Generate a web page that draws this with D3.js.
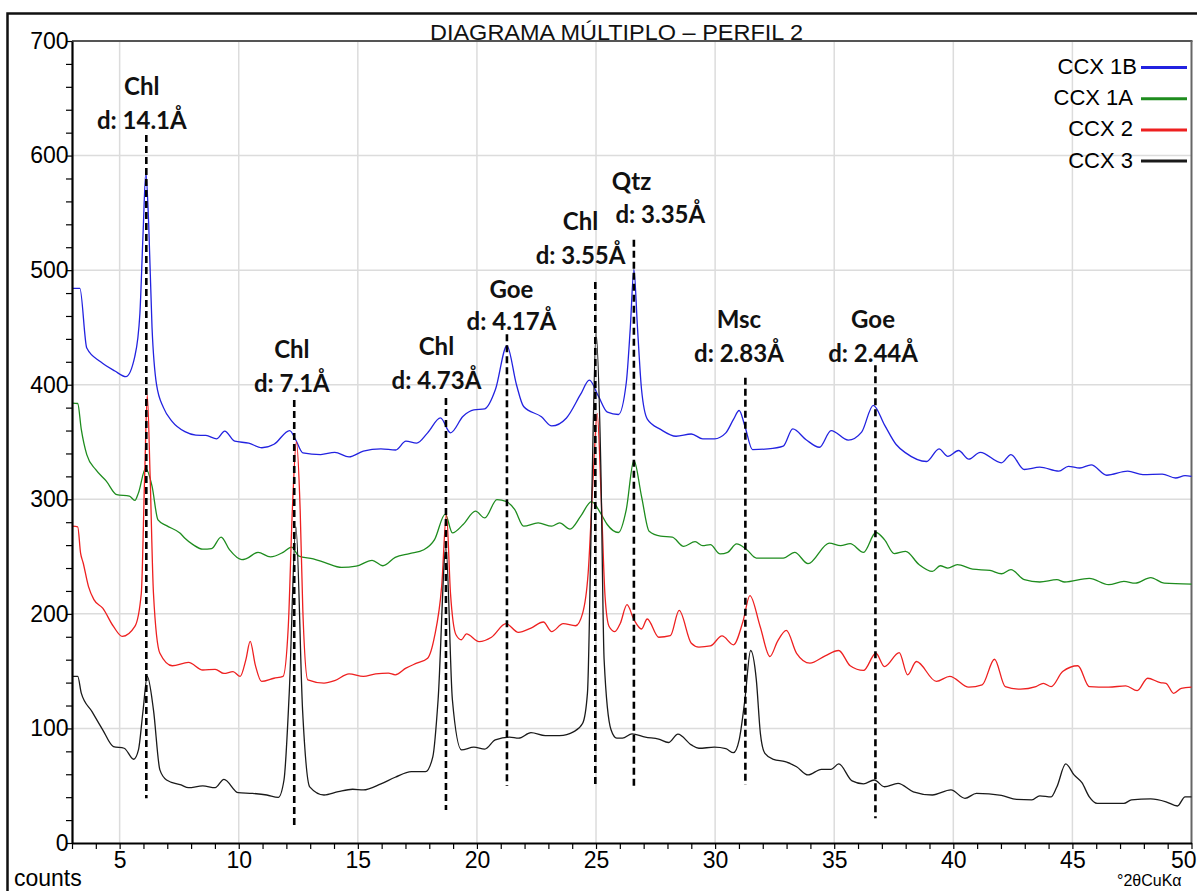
<!DOCTYPE html>
<html><head><meta charset="utf-8">
<script src="https://cdn.jsdelivr.net/npm/d3@7"></script>
<style>html,body{margin:0;padding:0;background:#fff;overflow:hidden;} svg{display:block;}</style>
</head><body>
<svg id="chart" width="1197" height="891"></svg>
<script>
// ---------- DATA ----------
const chartTitle = "DIAGRAMA MÚLTIPLO – PERFIL 2";
const seriesNames = ["CCX 1B", "CCX 1A", "CCX 2", "CCX 3"];
const xTickValues = [5, 10, 15, 20, 25, 30, 35, 40, 45, 50];
const yTickValues = [0, 100, 200, 300, 400, 500, 600, 700];

// [°2θ, counts]
const ccx1B = [[3.02,484],[3.33,484],[3.62,432],[4.2,420],[4.8,412],[5.26,407],[5.64,425],[5.85,462],[5.98,530],[6.1,585],[6.22,540],[6.36,450],[6.55,400],[6.84,380],[7.2,368],[7.74,359],[8.2,356],[8.62,355.7],[9.08,352.8],[9.41,359.5],[9.83,350.7],[10.42,349],[10.97,345],[11.48,348],[12.14,360],[12.39,352],[12.69,340.5],[13.44,339],[14.03,341],[14.63,337],[15.23,342],[15.97,344],[16.59,343],[17.02,350.7],[17.47,349],[17.93,358],[18.47,371],[18.89,358],[19.42,372.5],[19.87,378],[20.33,379],[20.78,396],[21.26,434],[21.66,400],[21.96,381],[22.71,372],[23.14,364],[23.76,371],[24.35,391.5],[24.72,404],[25.1,390],[25.48,376],[25.94,374],[26.27,401.7],[26.44,450],[26.59,500.7],[26.74,450],[26.91,396],[27.16,369.7],[27.71,361],[28.36,355],[29.0,357],[29.48,352.8],[29.97,352.8],[30.45,358],[30.77,369.7],[31.01,377.5],[31.25,363.8],[31.57,343.4],[32.22,344],[32.86,346.4],[33.26,361.4],[33.82,352],[34.38,345.4],[34.87,360],[35.59,351.6],[36.15,358.6],[36.64,382],[37.11,365],[37.6,347.8],[38.0,340.5],[38.88,333],[39.4,344],[39.77,337.5],[40.22,342.6],[40.65,335],[41.13,341],[42.02,331.8],[42.42,339],[42.98,326],[43.63,328],[44.43,324.5],[44.83,328.8],[45.31,327.3],[45.79,330],[46.44,321],[47.32,324.5],[47.96,321.6],[48.77,322],[49.33,318.6],[49.73,320.7],[50,320]];

const ccx1A = [[3.02,384],[3.24,383.6],[3.39,361],[3.62,339],[3.99,326],[4.44,315.8],[4.88,304],[5.41,302.7],[5.64,299],[5.79,305.6],[6.09,327],[6.36,311.5],[6.61,282],[6.97,277],[7.53,270.5],[7.74,266],[8.08,260.4],[8.49,256.5],[8.86,257],[9.26,267],[9.61,256],[10.13,247.3],[10.32,248.2],[10.81,253.7],[11.33,249.7],[11.86,253.7],[12.22,258.3],[12.53,250.3],[13.13,248],[13.65,244.5],[14.32,240.5],[14.93,241.6],[15.6,246.7],[16.05,242],[16.57,249.3],[17.17,252.6],[17.77,256],[18.22,264.8],[18.67,287],[18.97,270.7],[19.42,278],[19.94,289.6],[20.33,283.7],[20.84,299.7],[21.22,298.2],[21.59,291],[21.96,276.5],[22.57,279.4],[23.14,276.5],[23.47,279.4],[23.91,274],[24.35,285],[24.81,298],[25.19,288],[25.47,278],[25.94,271],[26.27,291],[26.59,334],[26.91,302.6],[27.23,272],[27.71,267.8],[28.2,267],[28.68,258.9],[29.16,263],[29.48,259.5],[29.8,260.4],[30.21,252.3],[30.53,253.7],[30.9,261],[31.33,256],[31.73,248.7],[32.86,248.7],[33.34,253.7],[33.9,243.8],[34.79,261.8],[35.27,259.5],[35.67,261.3],[36.23,253.7],[36.75,271],[37.11,264.8],[37.52,252.6],[38.0,254.6],[38.56,243],[39.12,237],[39.45,242],[39.77,240],[40.17,243],[40.81,239],[41.54,237.9],[42.02,235],[42.42,238.6],[42.98,229.8],[43.63,227.8],[44.35,229.8],[44.67,227.8],[45.71,231],[46.52,225.5],[47.16,228.3],[47.64,226.8],[48.29,231.7],[48.85,226.8],[50,226]];

const ccx2 = [[3.02,276.5],[3.24,276],[3.36,253],[3.47,244.4],[3.69,224],[3.92,212.4],[4.29,205],[4.74,189],[5.11,180.3],[5.64,189],[5.91,218],[6.05,320],[6.16,391],[6.28,320],[6.42,218],[6.69,165.6],[7.21,154.7],[7.89,157.6],[8.49,151],[9.01,151.6],[9.38,148],[9.76,149.6],[10.06,145.4],[10.3,160],[10.48,176],[10.7,155],[10.96,141],[11.48,143.8],[11.86,145.4],[12.08,189],[12.25,290],[12.42,350],[12.58,290],[12.69,203.6],[12.9,142.4],[13.58,139.6],[14.03,141.7],[14.63,147.7],[15.23,145.4],[15.75,147.7],[16.28,148.3],[16.57,146.8],[17.02,152.6],[17.47,157],[17.93,161.3],[18.22,180.3],[18.52,224],[18.72,287],[18.89,218],[19.12,181.8],[19.35,177.4],[19.56,182.6],[20.09,175.8],[20.61,179.6],[21.22,191.4],[21.74,183.8],[22.27,187.6],[22.79,192.9],[23.14,184.5],[23.62,191.4],[24.14,189.6],[24.44,200.7],[24.67,235.6],[24.88,320],[25.05,375],[25.22,300],[25.38,215],[25.55,189],[25.79,184.5],[26.02,191.8],[26.3,208],[26.59,195],[26.91,186.8],[27.15,195.5],[27.63,179.6],[28.12,180.9],[28.49,203],[29.0,174.4],[29.32,171],[29.8,172],[30.29,180.7],[30.77,173],[31.17,193.4],[31.46,216],[31.89,189],[32.3,162.8],[32.62,176],[32.99,185.6],[33.42,165.6],[33.98,157],[34.62,163.4],[35.19,168],[35.67,154.7],[36.23,150.6],[36.75,165.6],[37.11,154],[37.73,166.2],[38.08,146.8],[38.45,158.4],[39.29,141],[39.85,145.4],[40.65,136],[41.21,138],[41.73,160.4],[42.18,136.5],[42.82,134.3],[43.47,136.5],[43.78,139.4],[44.11,136.5],[44.59,149.6],[45.23,154.7],[45.71,136.5],[46.52,136],[47.24,137.2],[47.72,133],[48.16,143.8],[48.69,140],[48.93,139.4],[49.25,130.6],[49.57,135],[50,136]];

const ccx3 = [[3.02,145.4],[3.24,145.4],[3.39,130.8],[3.84,114.7],[4.29,98.8],[4.74,84.2],[5.19,82.7],[5.59,73.1],[5.79,81.3],[5.98,115],[6.16,145.4],[6.42,116.2],[6.69,63.8],[6.97,55],[7.58,50.7],[7.89,48.3],[8.49,49.8],[9.01,48.3],[9.38,55.6],[9.98,43.9],[10.58,43.3],[11.18,41.9],[11.66,39.8],[11.9,55],[12.12,130.8],[12.4,276],[12.68,116.2],[12.98,49],[13.58,41.9],[14.18,44.8],[14.78,46.9],[15.23,46.3],[15.97,51.6],[16.57,57.4],[17.25,62.3],[17.84,62.3],[18.15,75.4],[18.37,125],[18.7,258],[18.97,125],[19.35,81.3],[19.87,83.6],[20.33,82],[20.77,90],[21.37,92.4],[21.75,91.5],[22.27,96.3],[22.87,93.7],[23.47,93.7],[24.07,97.2],[24.44,104.5],[24.64,130.8],[24.82,300],[25.0,445],[25.2,330],[25.34,160],[25.63,98.8],[25.87,91.5],[26.11,91.5],[26.51,95.3],[27.07,92.4],[27.63,90.7],[28.04,87.7],[28.44,95],[29.0,85.6],[29.32,82.7],[29.97,83.6],[30.45,82.3],[30.77,78.8],[31.01,90],[31.25,125],[31.49,168],[31.73,142.4],[31.9,95.7],[32.09,78.2],[32.45,73],[32.94,71],[33.42,66.6],[33.9,59.4],[34.46,64.3],[34.87,64.3],[35.19,69],[35.75,54.2],[36.23,51.6],[36.68,55],[37.11,49.1],[37.68,52],[38.32,44.7],[39.12,41.9],[39.9,46.3],[40.49,39],[40.97,43.3],[42.02,41.5],[42.66,38],[43.3,37.6],[43.63,41.2],[44.11,40.3],[44.35,49.1],[44.72,69],[45.07,59.4],[45.4,52.6],[45.71,40.3],[46.04,34.6],[47.16,34.6],[47.48,37.6],[48.29,38.5],[48.93,36],[49.41,32.3],[49.73,40.3],[50,40.3]];

// peak annotations
const peakMinerals = ["Chl", "Chl", "Chl", "Goe", "Chl", "Qtz", "Msc", "Goe"];
const peakSpacings = ["d: 14.1Å", "d: 7.1Å", "d: 4.73Å", "d: 4.17Å", "d: 3.55Å", "d: 3.35Å", "d: 2.83Å", "d: 2.44Å"];
const peakTheta = [6.12, 12.33, 18.7, 21.26, 24.97, 26.59, 31.27, 36.73];
const peakLineTop = [618, 386.7, 388.4, 444, 489.7, 526.5, 406, 417];
const peakLineBottom = [39, 14.2, 28.8, 49.8, 49.8, 49.1, 50.6, 21.6];
// label anchor positions in data units (°2θ, counts)
const nameLabelTheta = [5.93, 12.23, 18.3, 21.45, 24.35, 26.49, 31.0, 36.63];
const nameLabelCounts = [653, 423, 426, 476, 535, 570, 449.5, 449.5];
const dLabelTheta = [5.93, 12.23, 18.3, 21.45, 24.35, 27.7, 31.0, 36.63];
const dLabelCounts = [623, 393.6, 396.3, 448, 505.4, 541.2, 419.8, 419.8];

// ---------- DRAW ----------
const colors = ["#2222e0", "#1e8c1e", "#ee2020", "#1a1a1a"];
const seriesData = [ccx1B, ccx1A, ccx2, ccx3];

const svg = d3.select("#chart");
const x = d3.scaleLinear().domain([3, 50]).range([72, 1191.5]);
const y = d3.scaleLinear().domain([0, 700]).range([843, 41]);

// outer border
svg.append("path").attr("d", "M7.5,900 L7.5,13.5 L1200,13.5")
  .attr("fill", "none").attr("stroke", "#111").attr("stroke-width", 2.5);

// gridlines
svg.append("g").selectAll("line").data(xTickValues.filter(d => d < 50)).join("line")
  .attr("x1", d => x(d)).attr("x2", d => x(d)).attr("y1", y(700)).attr("y2", y(0))
  .attr("stroke", "#dcdcdc").attr("stroke-width", 1.5);
svg.append("g").selectAll("line").data(yTickValues.filter(d => d > 0 && d < 700)).join("line")
  .attr("x1", x(3)).attr("x2", x(50)).attr("y1", d => y(d)).attr("y2", d => y(d))
  .attr("stroke", "#dcdcdc").attr("stroke-width", 1.5);

// plot frame top/right
svg.append("line").attr("x1", x(3)).attr("x2", x(50) + 1).attr("y1", y(700)).attr("y2", y(700))
  .attr("stroke", "#555").attr("stroke-width", 2);
svg.append("line").attr("x1", x(50)).attr("x2", x(50)).attr("y1", y(700)).attr("y2", y(0))
  .attr("stroke", "#666").attr("stroke-width", 2);

// series
const line = d3.line().x(d => x(d[0])).y(d => y(d[1])).curve(d3.curveMonotoneX);
svg.append("g").selectAll("path").data(seriesData).join("path")
  .attr("d", d => line(d)).attr("fill", "none")
  .attr("stroke", (d, i) => colors[i]).attr("stroke-width", 1.3)
  .attr("stroke-linejoin", "round");

// axes
const axisFont = "'Liberation Sans', Arial, sans-serif";
const xAxis = d3.axisBottom(x).tickValues(d3.range(3, 51, 1)).tickSize(6).tickSizeOuter(0).tickPadding(3)
  .tickFormat(d => xTickValues.includes(d) ? String(d) : "");
const gx = svg.append("g").attr("transform", `translate(0,${y(0)})`).call(xAxis);
gx.select(".domain").attr("stroke", "#000").attr("stroke-width", 1.8);
gx.selectAll(".tick line").attr("stroke", "#000").attr("stroke-width", 1.2);
gx.selectAll("text").attr("font-family", axisFont).attr("font-size", 23).attr("fill", "#000");
// keep the last label inside the picture
gx.selectAll(".tick").filter(d => d === 50).select("text")
  .attr("text-anchor", "end").attr("x", 1196 - x(50));

const yAxis = d3.axisLeft(y).tickValues(d3.range(0, 701, 20)).tickSize(6).tickSizeOuter(0).tickPadding(-2.5)
  .tickFormat(d => yTickValues.includes(d) ? String(d) : "");
const gy = svg.append("g").attr("transform", `translate(${x(3)},0)`).call(yAxis);
gy.select(".domain").attr("stroke", "#000").attr("stroke-width", 2.2);
gy.selectAll(".tick line").attr("stroke", "#000").attr("stroke-width", 1.2);
gy.selectAll("text").attr("font-family", axisFont).attr("font-size", 23).attr("fill", "#000");

// title
svg.append("text").attr("x", 430).attr("y", 40).text(chartTitle)
  .attr("font-family", axisFont).attr("font-size", 22).attr("fill", "#111")
  .attr("textLength", 373).attr("lengthAdjust", "spacingAndGlyphs");

// axis captions
svg.append("text").attr("x", 14).attr("y", 886).text("counts")
  .attr("font-family", axisFont).attr("font-size", 23).attr("fill", "#000");
svg.append("text").attr("x", 1117).attr("y", 886).text("°2θCuKα")
  .attr("font-family", axisFont).attr("font-size", 16).attr("fill", "#000");

// legend
const lg = svg.append("g");
seriesNames.forEach((name, i) => {
  const ly = 67.5 + i * 31.2;
  lg.append("line").attr("x1", 1141).attr("x2", 1187).attr("y1", ly).attr("y2", ly)
    .attr("stroke", colors[i]).attr("stroke-width", 3);
  lg.append("text").attr("x", i === 0 ? 1137 : 1133).attr("y", ly + 6.5).text(name)
    .attr("text-anchor", "end").attr("font-family", axisFont).attr("font-size", 22).attr("fill", "#000");
});

// peak annotations
const annFont = "Lato, 'Open Sans', sans-serif";
const ag = svg.append("g");
peakTheta.forEach((t, i) => {
  ag.append("line").attr("x1", x(t)).attr("x2", x(t))
    .attr("y1", y(peakLineTop[i])).attr("y2", y(peakLineBottom[i]))
    .attr("stroke", "#000").attr("stroke-width", 2.6).attr("stroke-dasharray", "7,4");
  ag.append("text").attr("x", x(nameLabelTheta[i])).attr("y", y(nameLabelCounts[i]))
    .text(peakMinerals[i]).attr("text-anchor", "middle")
    .attr("font-family", annFont).attr("font-weight", 700).attr("font-size", 24).attr("fill", "#111");
  ag.append("text").attr("x", x(dLabelTheta[i])).attr("y", y(dLabelCounts[i]))
    .text(peakSpacings[i]).attr("text-anchor", "middle")
    .attr("font-family", annFont).attr("font-weight", 700).attr("font-size", 24).attr("fill", "#111");
});
</script>
</body></html>
